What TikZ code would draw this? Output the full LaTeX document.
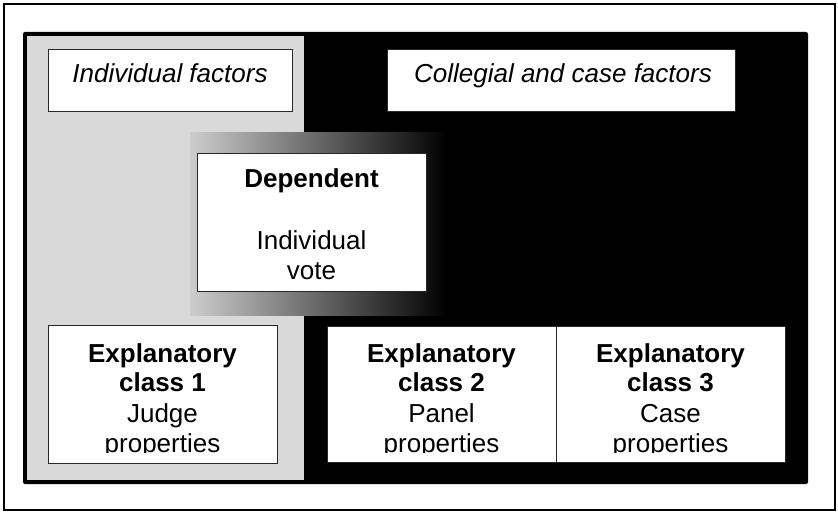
\documentclass[tikz,border=0pt]{standalone}
\usepackage{fontspec}
\setmainfont{Liberation Sans}
\definecolor{bggray}{RGB}{217,217,217}
\definecolor{gradgray}{RGB}{205,205,205}
\definecolor{edgegray}{RGB}{40,40,40}
\begin{document}
\begin{tikzpicture}[x=1pt,y=-1pt,
  lbl/.style={inner sep=0pt, anchor=base, font=\fontsize{26}{30}\selectfont},
  wbox/.style={draw=edgegray, line width=0.8pt, fill=white, inner sep=0pt},
]
\useasboundingbox (0,0) rectangle (838,513);
% outer frame
\draw[line width=1.5pt] (4,4) rectangle (835,510);
% inner black panel
\fill[black, rounded corners=2pt] (23,32) rectangle (808,484);
% gray left column
\fill[bggray] (27,36) rectangle (304,480);
% gradient band behind the dependent box
\shade[left color=gradgray, right color=black] (190,133) rectangle (447,315);

% header boxes
\node[wbox, minimum width=244, minimum height=62] (indiv) at (170,80) {};
\node[lbl] (indivt) at (170,83) {\itshape Individual factors};
\node[wbox, minimum width=348, minimum height=62] (coll) at (561,80) {};
\node[lbl] (collt) at (563,83) {\itshape Collegial and case factors};

% dependent box
\node[wbox, minimum width=229, minimum height=138] (dep) at (311.5,222) {};
\node[lbl] (dep1) at (311.5,188) {\bfseries Dependent};
\node[lbl] (dep2) at (311.5,249) {Individual};
\node[lbl] (dep3) at (311.5,279) {vote};

% explanatory boxes
\node[wbox, minimum width=229, minimum height=138] (ex1) at (162.5,394) {};
\node[wbox, minimum width=229, minimum height=136] (ex2) at (441.5,394) {};
\node[wbox, minimum width=229, minimum height=136] (ex3) at (670.5,394) {};

\begin{scope}
\clip (ex1.north west) rectangle ([yshift=11pt]ex1.south east);
\node[lbl] (ex1a) at (162.5,362) {\bfseries Explanatory};
\node[lbl] (ex1b) at (162.5,391) {\bfseries class 1};
\node[lbl] (ex1c) at (162.5,422) {Judge};
\node[lbl] (ex1d) at (162.5,452) {properties};
\end{scope}
\begin{scope}
\clip (ex2.north west) rectangle ([yshift=10pt]ex2.south east);
\node[lbl] (ex2a) at (441.5,362) {\bfseries Explanatory};
\node[lbl] (ex2b) at (441.5,391) {\bfseries class 2};
\node[lbl] (ex2c) at (441.5,422) {Panel};
\node[lbl] (ex2d) at (441.5,452) {properties};
\end{scope}
\begin{scope}
\clip (ex3.north west) rectangle ([yshift=10pt]ex3.south east);
\node[lbl] (ex3a) at (670.5,362) {\bfseries Explanatory};
\node[lbl] (ex3b) at (670.5,391) {\bfseries class 3};
\node[lbl] (ex3c) at (670.5,422) {Case};
\node[lbl] (ex3d) at (670.5,452) {properties};
\end{scope}
\end{tikzpicture}
\end{document}
